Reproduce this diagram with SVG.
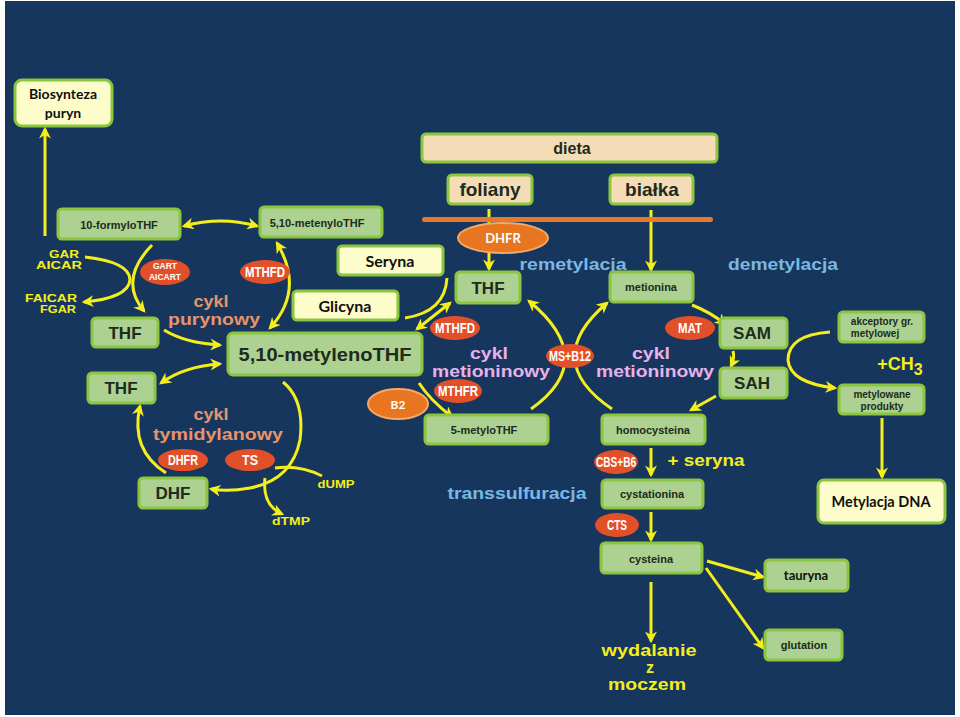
<svg xmlns="http://www.w3.org/2000/svg" width="960" height="717" viewBox="0 0 960 717">
<defs>
<marker id="ah" viewBox="0 0 10 10" refX="8" refY="5" markerWidth="12" markerHeight="12" markerUnits="userSpaceOnUse" orient="auto-start-reverse">
<path d="M0,0 L10,5 L0,10 L3,5 z" fill="#f3ee1c"/>
</marker>
</defs>
<style>
.g{fill:#acd190;stroke:#8cc63e;stroke-width:3}
.y{fill:#fdfccb;stroke:#8cc63e;stroke-width:3}
.p{fill:#f4dcb6;stroke:#8cc63e;stroke-width:3}
.e{fill:#e2502a}
.o{fill:#e8751f;stroke:#f6a868;stroke-width:2}
.t{font-family:"Liberation Sans",Arial,sans-serif;font-weight:bold;fill:#202a20;text-anchor:middle}
.c{font-family:Lato,"Open Sans",sans-serif;font-weight:bold;fill:#101010;text-anchor:middle}
.w{font-family:Lato,"Open Sans",sans-serif;font-weight:bold;fill:#ffffff;text-anchor:middle}
.et{font-family:"Liberation Sans",Arial,sans-serif;font-weight:bold;fill:#ffffff;text-anchor:middle}
.yl{font-family:"Liberation Sans",Arial,sans-serif;font-weight:bold;fill:#f3ee1c;text-anchor:middle}
.sa{font-family:"Liberation Sans",Arial,sans-serif;font-weight:bold;fill:#e8936a;text-anchor:middle;font-size:17px}
.lv{font-family:"Liberation Sans",Arial,sans-serif;font-weight:bold;fill:#e6b2e8;text-anchor:middle;font-size:17px}
.bl{font-family:"Liberation Sans",Arial,sans-serif;font-weight:bold;fill:#79b8e2;text-anchor:middle;font-size:17px}
.a{fill:none;stroke:#f3ee1c;stroke-width:3;marker-end:url(#ah)}
.d{fill:none;stroke:#f3ee1c;stroke-width:3;marker-end:url(#ah);marker-start:url(#ah)}
.n{fill:none;stroke:#f3ee1c;stroke-width:3}
</style>
<rect x="0" y="0" width="960" height="717" fill="#ffffff"/>
<rect x="5" y="1" width="950" height="714" fill="#17365e"/>

<g id="connectors">
<path class="a" d="M45,236 L45,129"/>
<path class="d" d="M184,226 Q221,216 257,226"/>
<path class="a" d="M152,245 Q118,280 144,311"/>
<path class="a" d="M85,257 Q130,262 130,280 Q128,298 84,302"/>
<path class="d" d="M277,243 Q305,290 270,328"/>
<path class="a" d="M164,330 Q185,343 220,345"/>
<path class="d" d="M161,383 Q185,366 220,364"/>
<path class="n" d="M447,278 Q445,312 405,318"/>
<path class="d" d="M417,329 L450,303"/>
<path class="n" d="M489,209 L489,223"/>
<path class="a" d="M489,252 L489,269"/>
<path class="a" d="M651,210 L651,270"/>
<path class="a" d="M531,409 Q600,360 529,301"/>
<path class="a" d="M612,409 Q540,360 607,303"/>
<path class="a" d="M419,383 Q430,400 452,417"/>
<path class="a" d="M692,305 Q710,312 725,324"/>
<path class="a" d="M733,351 Q735,358 731,366"/>
<path class="a" d="M716,396 L691,410"/>
<path class="a" d="M830,332 Q788,335 788,360 Q790,383 835,388"/>
<path class="a" d="M882,418 L882,477"/>
<path class="a" d="M651,448 L651,475"/>
<path class="a" d="M651,512 L651,540"/>
<path class="a" d="M707,561 L763,577"/>
<path class="a" d="M706,568 L763,648"/>
<path class="a" d="M651,582 L651,641"/>
<path class="a" d="M283,382 Q305,400 300,440 Q292,480 250,488 Q228,492 211,489"/>
<path class="a" d="M166,473 Q130,450 140,406"/>
<path class="n" d="M322,476 Q300,465 275,468"/>
<path class="a" d="M265,478 Q262,505 282,514"/>
</g>

<g id="biosynteza"><rect class="y" x="15" y="80" width="97" height="46" rx="7"/><text class="c" x="63" y="99" font-size="14">Biosynteza</text><text class="c" x="63" y="118" font-size="14">puryn</text></g>
<g id="formylo"><rect class="g" x="58" y="209" width="122" height="30" rx="4"/><text class="t" x="119" y="229" font-size="11">10-formyloTHF</text></g>
<g id="metenylo"><rect class="g" x="260" y="207" width="122" height="30" rx="4"/><text class="t" x="317" y="227" font-size="11">5,10-metenyloTHF</text></g>
<g id="gar"><text class="yl" x="64" y="258" font-size="11" textLength="30" lengthAdjust="spacingAndGlyphs">GAR</text><text class="yl" x="59" y="269" font-size="11" textLength="46" lengthAdjust="spacingAndGlyphs">AICAR</text></g>
<g id="faicar"><text class="yl" x="51" y="302" font-size="11" textLength="52" lengthAdjust="spacingAndGlyphs">FAICAR</text><text class="yl" x="58" y="313" font-size="11" textLength="36" lengthAdjust="spacingAndGlyphs">FGAR</text></g>
<g id="gart"><ellipse class="e" cx="165" cy="272" rx="25" ry="13"/><text class="et" x="165" y="269" font-size="9" textLength="24" lengthAdjust="spacingAndGlyphs">GART</text><text class="et" x="165" y="280" font-size="9" textLength="32" lengthAdjust="spacingAndGlyphs">AICART</text></g>
<g id="mthfd1"><ellipse class="e" cx="265" cy="272" rx="25" ry="12"/><text class="et" x="265" y="277" font-size="14" textLength="40" lengthAdjust="spacingAndGlyphs">MTHFD</text></g>
<g id="cyklpur"><text class="sa" x="211" y="307" textLength="35" lengthAdjust="spacingAndGlyphs">cykl</text><text class="sa" x="214" y="325" textLength="92" lengthAdjust="spacingAndGlyphs">purynowy</text></g>
<g id="thf1"><rect class="g" x="92" y="318" width="66" height="29" rx="4"/><text class="t" x="125" y="339" font-size="17">THF</text></g>
<g id="thf2"><rect class="g" x="88" y="373" width="67" height="30" rx="4"/><text class="t" x="121" y="394" font-size="17">THF</text></g>
<g id="metyleno"><rect class="g" x="228" y="333" width="194" height="42" rx="5"/><text class="t" x="325" y="361" font-size="19" textLength="173" lengthAdjust="spacingAndGlyphs">5,10-metylenoTHF</text></g>
<g id="seryna"><rect class="y" x="338" y="246" width="105" height="29" rx="4"/><text class="c" x="390" y="267" font-size="16">Seryna</text></g>
<g id="glicyna"><rect class="y" x="293" y="291" width="105" height="29" rx="4"/><text class="c" x="345" y="312" font-size="16">Glicyna</text></g>
<g id="mthfd2"><ellipse class="e" cx="455" cy="328" rx="25" ry="12"/><text class="et" x="455" y="333" font-size="14" textLength="40" lengthAdjust="spacingAndGlyphs">MTHFD</text></g>
<g id="cyklty"><text class="sa" x="211" y="420" textLength="35" lengthAdjust="spacingAndGlyphs">cykl</text><text class="sa" x="218" y="440" textLength="130" lengthAdjust="spacingAndGlyphs">tymidylanowy</text></g>
<g id="dhfr2"><ellipse class="e" cx="183" cy="460" rx="25" ry="11"/><text class="et" x="183" y="465" font-size="14" textLength="30" lengthAdjust="spacingAndGlyphs">DHFR</text></g>
<g id="ts"><ellipse class="e" cx="250" cy="460" rx="25" ry="11"/><text class="et" x="250" y="465" font-size="14" textLength="16" lengthAdjust="spacingAndGlyphs">TS</text></g>
<g id="dhf"><rect class="g" x="139" y="478" width="68" height="30" rx="4"/><text class="t" x="173" y="499" font-size="17">DHF</text></g>
<g id="dump"><text class="yl" x="336" y="488" font-size="11" textLength="37" lengthAdjust="spacingAndGlyphs">dUMP</text></g>
<g id="dtmp"><text class="yl" x="291" y="525" font-size="11" textLength="38" lengthAdjust="spacingAndGlyphs">dTMP</text></g>
<g id="b2"><ellipse class="o" cx="398" cy="404" rx="30" ry="15"/><text class="w" x="398" y="409" font-size="12">B2</text></g>
<g id="dieta"><rect class="p" x="422" y="134" width="295" height="28" rx="4"/><text class="t" x="572" y="154" font-size="16">dieta</text></g>
<g id="foliany"><rect class="p" x="448" y="175" width="84" height="29" rx="4"/><text class="t" x="490" y="196" font-size="19">foliany</text></g>
<g id="bialka"><rect class="p" x="610" y="175" width="83" height="29" rx="4"/><text class="t" x="652" y="196" font-size="19">białka</text></g>
<g id="bar"><rect x="422" y="217" width="291" height="5" rx="2.5" fill="#e8782a"/></g>
<g id="dhfr1"><ellipse class="o" cx="503" cy="238" rx="45" ry="15"/><text class="w" x="503" y="243" font-size="13">DHFR</text></g>
<g id="remet"><text class="bl" x="573" y="270" textLength="107" lengthAdjust="spacingAndGlyphs">remetylacja</text></g>
<g id="demet"><text class="bl" x="783" y="270" textLength="110" lengthAdjust="spacingAndGlyphs">demetylacja</text></g>
<g id="thf3"><rect class="g" x="456" y="272" width="64" height="31" rx="4"/><text class="t" x="488" y="294" font-size="17">THF</text></g>
<g id="metionina"><rect class="g" x="610" y="272" width="83" height="30" rx="4"/><text class="t" x="651" y="291" font-size="11">metionina</text></g>
<g id="cyklmet1"><text class="lv" x="489" y="359" textLength="38" lengthAdjust="spacingAndGlyphs">cykl</text><text class="lv" x="491" y="377" textLength="118" lengthAdjust="spacingAndGlyphs">metioninowy</text></g>
<g id="cyklmet2"><text class="lv" x="651" y="359" textLength="38" lengthAdjust="spacingAndGlyphs">cykl</text><text class="lv" x="655" y="377" textLength="118" lengthAdjust="spacingAndGlyphs">metioninowy</text></g>
<g id="msb12"><ellipse class="e" cx="570" cy="356" rx="24" ry="12"/><text class="et" x="570" y="361" font-size="14" textLength="42" lengthAdjust="spacingAndGlyphs">MS+B12</text></g>
<g id="mthfr"><ellipse class="e" cx="458" cy="391" rx="24" ry="12"/><text class="et" x="458" y="396" font-size="14" textLength="40" lengthAdjust="spacingAndGlyphs">MTHFR</text></g>
<g id="mat"><ellipse class="e" cx="690" cy="328" rx="25" ry="12"/><text class="et" x="690" y="333" font-size="14" textLength="24" lengthAdjust="spacingAndGlyphs">MAT</text></g>
<g id="metylothf"><rect class="g" x="425" y="415" width="123" height="29" rx="4"/><text class="t" x="484" y="434" font-size="11">5-metyloTHF</text></g>
<g id="homocys"><rect class="g" x="602" y="415" width="103" height="29" rx="4"/><text class="t" x="653" y="434" font-size="11">homocysteina</text></g>
<g id="sam"><rect class="g" x="720" y="318" width="67" height="30" rx="4"/><text class="t" x="752" y="339" font-size="17">SAM</text></g>
<g id="sah"><rect class="g" x="720" y="368" width="67" height="30" rx="4"/><text class="t" x="752" y="389" font-size="17">SAH</text></g>
<g id="akceptory"><rect class="g" x="839" y="312" width="85" height="30" rx="4"/><text class="t" x="882" y="325" font-size="10">akceptory gr.</text><text class="t" x="875" y="337" font-size="10">metylowej</text></g>
<g id="ch3"><text class="yl" x="900" y="370" font-size="18">+CH<tspan font-size="16" dy="5">3</tspan></text></g>
<g id="produkty"><rect class="g" x="839" y="385" width="85" height="29" rx="4"/><text class="t" x="882" y="398" font-size="10">metylowane</text><text class="t" x="882" y="410" font-size="10">produkty</text></g>
<g id="dna"><rect class="y" x="818" y="480" width="127" height="43" rx="6"/><text class="c" x="881" y="507" font-size="14.5">Metylacja DNA</text></g>
<g id="cbs"><ellipse class="e" cx="616" cy="462" rx="22" ry="12"/><text class="et" x="616" y="467" font-size="14" textLength="40" lengthAdjust="spacingAndGlyphs">CBS+B6</text></g>
<g id="seryna2"><text class="yl" x="706" y="466" font-size="16" textLength="77" lengthAdjust="spacingAndGlyphs">+ seryna</text></g>
<g id="transs"><text class="bl" x="517" y="499" textLength="139" lengthAdjust="spacingAndGlyphs">transsulfuracja</text></g>
<g id="cystat"><rect class="g" x="602" y="480" width="101" height="28" rx="4"/><text class="t" x="652" y="498" font-size="11">cystationina</text></g>
<g id="cts"><ellipse class="e" cx="617" cy="525" rx="22" ry="12"/><text class="et" x="617" y="530" font-size="14" textLength="20" lengthAdjust="spacingAndGlyphs">CTS</text></g>
<g id="cysteina"><rect class="g" x="601" y="543" width="101" height="30" rx="4"/><text class="t" x="651" y="563" font-size="11">cysteina</text></g>
<g id="tauryna"><rect class="g" x="765" y="560" width="83" height="31" rx="4"/><text class="c" x="806" y="580" font-size="13">tauryna</text></g>
<g id="glutation"><rect class="g" x="765" y="630" width="77" height="30" rx="4"/><text class="t" x="804" y="649" font-size="11">glutation</text></g>
<g id="wydalanie"><text class="yl" x="649" y="656" font-size="16" textLength="95" lengthAdjust="spacingAndGlyphs">wydalanie</text><text class="yl" x="650" y="673" font-size="16">z</text><text class="yl" x="647" y="690" font-size="16" textLength="78" lengthAdjust="spacingAndGlyphs">moczem</text></g>
</svg>
